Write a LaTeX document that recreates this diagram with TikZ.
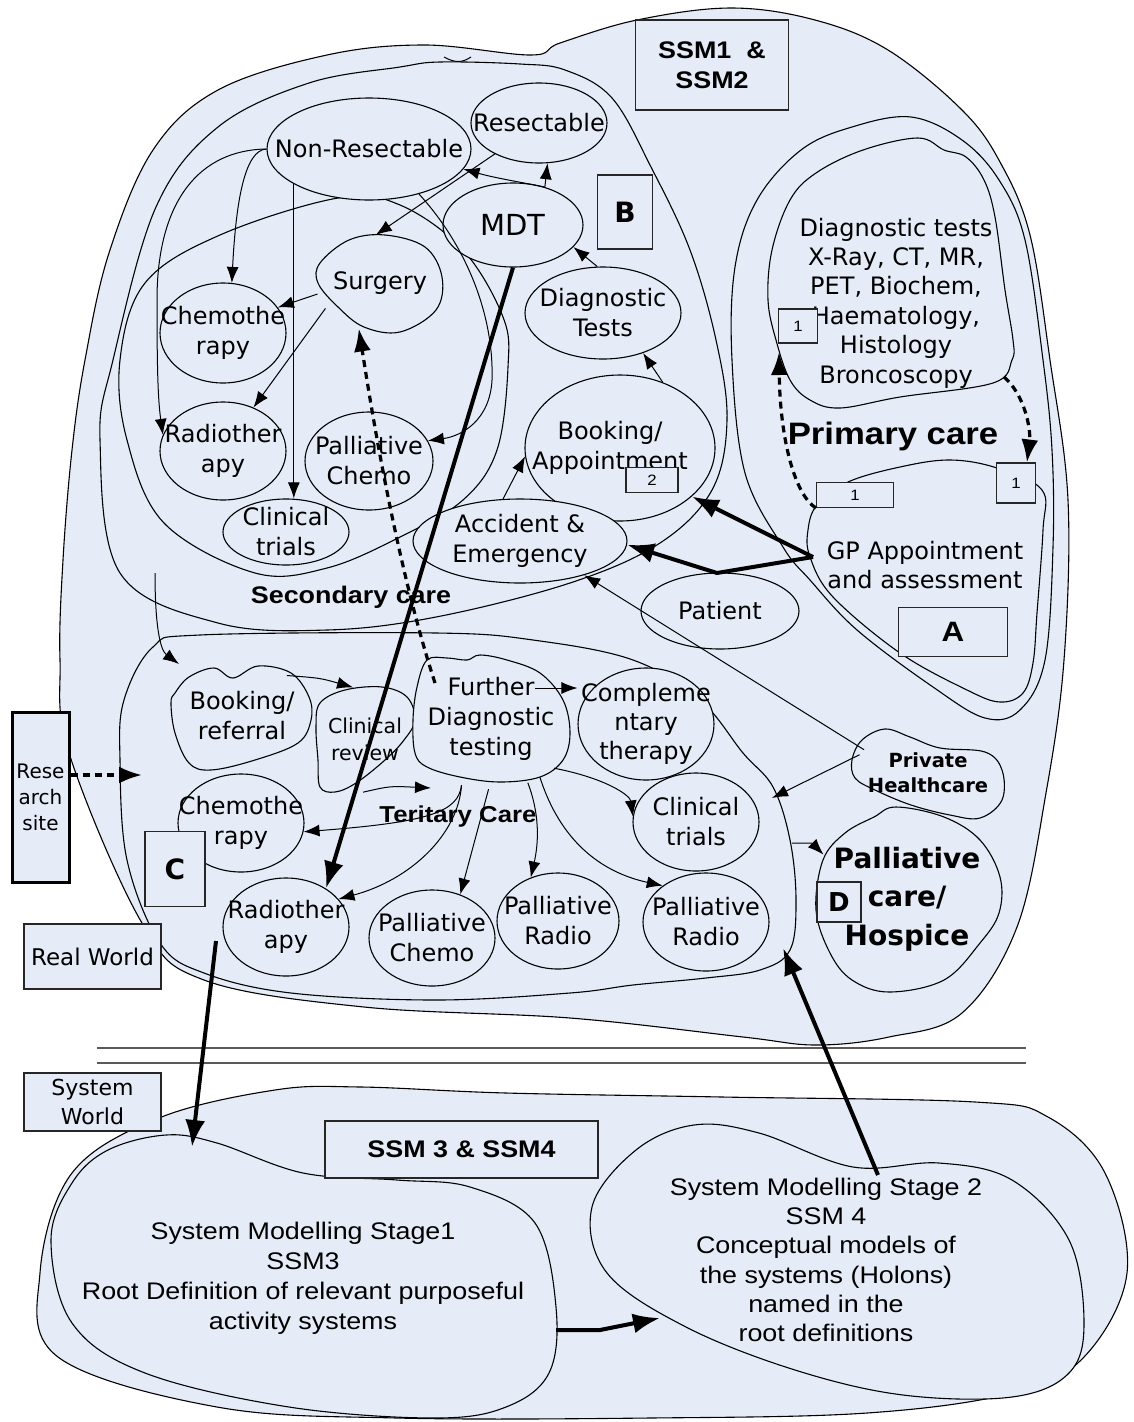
\documentclass[tikz,border=0pt]{standalone}
\usepackage{fontspec}
\setmainfont{DejaVu Sans}
\newfontfamily\arialf[FakeStretch=1.12]{Liberation Sans}
\usetikzlibrary{arrows.meta,shapes.geometric}
\definecolor{paleblue}{RGB}{229,236,247}
\definecolor{rulegray}{RGB}{90,90,90}
\tikzset{
  txt/.style={font=\fontsize{24}{30}\selectfont, align=center, inner sep=0pt},
  region/.style={draw=black, line width=1.1pt, fill=paleblue},
  % ellipse of a fixed size; its text is set as a centred label
  oval/.style={ellipse, draw=black, line width=1.1pt, fill=paleblue, inner sep=0pt},
  blobanchor/.style={ellipse, inner sep=0pt},
  tagbox/.style={draw=black!85, line width=1.1pt, fill=paleblue, inner sep=0pt, align=center},
  thinarrow/.style={line width=1pt, -{Latex[length=16pt,width=12pt]}},
  heavyarrow/.style={line width=4pt, -{Latex[length=27pt,width=20pt]}},
  dotarrow/.style={line width=3.2pt, dash pattern=on 7pt off 5pt, -{Latex[length=23pt,width=17pt]}},
  heading/.style={font=\arialf\bfseries\fontsize{24}{30}\selectfont, inner sep=0pt, align=center},
  sysfont/.style={font=\arialf\fontsize{24}{30}\selectfont, inner sep=0pt, align=center},
  smallnum/.style={tagbox, font=\arialf\fontsize{15}{16}\selectfont},
}
\begin{document}
\begin{tikzpicture}[x=1pt,y=-1pt]
\useasboundingbox (0,0) rectangle (1133,1422);
\fill[white] (0,0) rectangle (1133,1422);

% ---------- real world region ----------
\draw[region] plot[smooth cycle, tension=0.6] coordinates {(69,753) (60,660) (63,560) (72,450) (85,360) (109,253) (153,150) (218,90) (327,55) (425,45) (531,55) (560,43) (637,20) (731,8) (815,20) (888,50) (962,110) (1000,162) (1030,235) (1050,360) (1068,500) (1064,660) (1046,793) (1017,927) (962,1013) (889,1037) (816,1045) (743,1037) (570,1018) (364,1007) (204,980) (142,923)};
\draw[line width=1pt] (444,57) .. controls (455,63) and (462,63) .. (471,57);

% secondary care
\draw[region] plot[smooth cycle, tension=0.6] coordinates {(440,62) (520,64) (565,70) (612,98) (651,167) (690,250) (716,340) (727,420) (712,490) (660,543) (570,583) (436,617) (327,630) (218,623) (120,573) (100,440) (113,360) (156,207) (218,127) (309,83) (400,67)};
% treatment group
\draw[region] plot[smooth cycle, tension=0.6] coordinates {(120,360) (145,283) (220,235) (338,198) (400,205) (463,250) (503,317) (508,367) (497,450) (463,500) (400,537) (327,568) (255,573) (164,523) (127,440)};

% primary care
\draw[region] plot[smooth cycle, tension=0.6] coordinates {(732,360) (735,267) (757,200) (801,150) (852,127) (911,117) (962,140) (999,180) (1025,240) (1043,360) (1052,450) (1053,547) (1045,660) (1020,710) (985,718) (933,687) (857,630) (810,580) (783,547) (745,473)};
\draw[region] plot[smooth cycle, tension=0.6] coordinates {(768,300) (772,250) (790,200) (816,173) (863,150) (918,138) (944,150) (966,157) (984,180) (995,217) (1005,290) (1013,340) (1012,360) (993,383) (900,397) (840,408) (810,400) (790,380) (776,340)};
\draw[region] plot[smooth cycle, tension=0.6] coordinates {(848,482) (900,467) (950,460) (997,468) (1042,490) (1043,530) (1037,613) (1033,663) (1023,693) (1000,702) (967,690) (900,653) (833,597) (810,557) (808,530) (817,505)};

% tertiary care
\draw[region] plot[smooth cycle, tension=0.6] coordinates {(124,700) (153,647) (200,635) (436,633) (533,640) (633,660) (700,700) (743,753) (773,787) (790,840) (796,900) (790,950) (760,970) (706,978) (633,985) (570,993) (436,1000) (291,993) (204,973) (160,943) (127,860) (120,760)};

% private healthcare and hospice
\draw[region] plot[smooth cycle, tension=0.6] coordinates {(852,760) (862,740) (885,729) (910,737) (940,748) (985,752) (1002,770) (1002,800) (980,818) (950,815) (911,805) (875,790) (855,778)};
\draw[region] plot[smooth cycle, tension=0.6] coordinates {(896,807) (944,817) (980,840) (1000,877) (999,913) (980,943) (944,980) (889,992) (852,980) (830,953) (816,910) (823,860) (845,833) (874,817)};

% ---------- system world ----------
\draw[region] plot[smooth cycle, tension=0.6] coordinates {(159,1118) (275,1090) (361,1087) (506,1093) (722,1097) (975,1102) (1048,1117) (1105,1173) (1127,1273) (1084,1357) (1012,1393) (867,1413) (650,1418) (397,1418) (217,1407) (58,1357) (40,1273) (72,1173)};
\draw[region] plot[smooth cycle, tension=0.6] coordinates {(108,1150) (166,1135) (217,1143) (303,1173) (397,1180) (470,1187) (535,1223) (556,1307) (549,1373) (506,1407) (434,1418) (289,1407) (145,1373) (72,1323) (51,1240) (72,1183)};
\draw[region] plot[smooth cycle, tension=0.6] coordinates {(592,1207) (636,1150) (694,1125) (759,1133) (853,1167) (939,1163) (1012,1180) (1069,1240) (1084,1323) (1069,1373) (1012,1397) (903,1395) (795,1370) (686,1327) (607,1273)};

% ---------- secondary care nodes ----------
\node[oval, minimum width=204pt, minimum height=102pt, label={[txt]center:{Non-Resectable}}] (nonres) at (369,149) {};
\node[oval, minimum width=136pt, minimum height=80pt, label={[txt]center:{Resectable}}] (resect) at (539,123) {};
\node[oval, minimum width=140pt, minimum height=84pt, label={[txt, font=\fontsize{29}{32}\selectfont]center:{MDT}}] (mdt) at (513,225) {};
\draw[region] plot[smooth cycle, tension=0.6] coordinates {(320,263) (349,240) (385,235) (425,247) (442,277) (436,310) (400,332) (364,327) (338,307) (318,283)};
\node[blobanchor, minimum width=128pt, minimum height=96pt, label={[txt]center:{Surgery}}] (surgery) at (380,283) {};
\node[oval, minimum width=126pt, minimum height=100pt, label={[txt]center:{Chemothe\\rapy}}] (chemo1) at (223,333) {};
\node[oval, minimum width=126pt, minimum height=98pt, label={[txt]center:{Radiother\\apy}}] (radio1) at (223,451) {};
\node[oval, minimum width=128pt, minimum height=98pt, label={[txt]center:{Palliative\\Chemo}}] (palchemo1) at (369,461) {};
\node[oval, minimum width=126pt, minimum height=66pt, label={[txt]center:{Clinical\\trials}}] (ctrials1) at (286,532) {};
\node[oval, minimum width=156pt, minimum height=92pt, label={[txt]center:{Diagnostic\\Tests}}] (diagtests) at (603,313) {};
\node[oval, minimum width=190pt, minimum height=146pt, label={[txt, xshift=-10pt]center:{Booking/\\Appointment}}] (booking) at (620,448) {};
\node[oval, minimum width=214pt, minimum height=84pt, label={[txt]center:{Accident \&\\Emergency}}] (ae) at (520,541) {};
\node[oval, minimum width=158pt, minimum height=76pt, label={[txt]center:{Patient}}] (patient) at (720,611) {};
\node[heading] (seclabel) at (351,597) {Secondary care};
\node[tagbox, minimum width=55pt, minimum height=74pt, font=\bfseries\fontsize{28}{30}\selectfont] (boxB) at (625,212) {B};
\node[smallnum, minimum width=52pt, minimum height=25pt] (box2) at (652,480) {2};

% ---------- primary care nodes ----------
\node[txt, font=\fontsize{24}{29.4}\selectfont] (dtp) at (896,303) {Diagnostic tests\\X-Ray, CT, MR,\\PET, Biochem,\\Haematology,\\Histology\\Broncoscopy};
\node[smallnum, minimum width=39pt, minimum height=34pt] (box1c) at (798,326) {1};
\node[heading, font=\arialf\bfseries\fontsize{31}{36}\selectfont] (primlabel) at (893,436) {Primary care};
\node[txt, font=\fontsize{24}{29}\selectfont] (gp) at (925,565) {GP Appointment\\and assessment};
\node[smallnum, minimum width=77pt, minimum height=25pt] (box1a) at (855,495) {1};
\node[smallnum, minimum width=39pt, minimum height=40pt] (box1b) at (1016,483) {1};
\node[tagbox, minimum width=109pt, minimum height=49pt, font=\arialf\bfseries\fontsize{28}{30}\selectfont] (boxA) at (953,632) {A};

% ---------- tertiary care nodes ----------
\draw[region] plot[smooth cycle, tension=0.6] coordinates {(175,693) (189,677) (214,668) (233,678) (258,666) (291,673) (309,697) (311,720) (298,743) (255,760) (211,770) (189,763) (175,733) (171,703)};
\node[blobanchor, minimum width=142pt, minimum height=104pt, label={[txt]center:{Booking/\\referral}}] (booking2) at (242,716) {};
\draw[region] plot[smooth cycle, tension=0.6] coordinates {(320,703) (345,690) (382,687) (407,697) (415,720) (404,740) (385,760) (356,783) (335,792) (320,787) (318,760) (316,727)};
\node[blobanchor, minimum width=100pt, minimum height=106pt, label={[txt, font=\fontsize{20.5}{27}\selectfont]center:{Clinical\\review}}] (clinrev) at (365,739) {};
\draw[region] plot[smooth cycle, tension=0.6] coordinates {(427,660) (447,658) (467,660) (480,655) (507,660) (540,673) (563,700) (570,733) (563,760) (540,777) (500,782) (460,777) (427,767) (415,753) (413,720) (417,687)};
\node[blobanchor, minimum width=176pt, minimum height=140pt, label={[txt]center:{Further\\Diagnostic\\testing}}] (further) at (491,719) {};
\node[oval, minimum width=136pt, minimum height=112pt, label={[txt, font=\fontsize{24}{29}\selectfont]center:{Compleme\\ntary\\therapy}}] (comp) at (646,724) {};
\node[oval, minimum width=126pt, minimum height=98pt, label={[txt]center:{Clinical\\trials}}] (ctrials2) at (696,822) {};
\node[oval, minimum width=126pt, minimum height=98pt, label={[txt]center:{Chemothe\\rapy}}] (chemo2) at (241,823) {};
\node[oval, minimum width=126pt, minimum height=98pt, label={[txt]center:{Radiother\\apy}}] (radio2) at (286,927) {};
\node[oval, minimum width=126pt, minimum height=96pt, label={[txt]center:{Palliative\\Chemo}}] (palchemo2) at (432,938) {};
\node[oval, minimum width=122pt, minimum height=96pt, label={[txt]center:{Palliative\\Radio}}] (palradio1) at (558,921) {};
\node[oval, minimum width=126pt, minimum height=98pt, label={[txt]center:{Palliative\\Radio}}] (palradio2) at (706,922) {};
\node[heading, font=\arialf\bfseries\fontsize{23}{28}\selectfont] (terlabel) at (458,817) {Teritary Care};
\node[tagbox, minimum width=60pt, minimum height=75pt, font=\bfseries\fontsize{28}{30}\selectfont] (boxC) at (175,869) {C};
\node[blobanchor, minimum width=150pt, minimum height=88pt, label={[txt, font=\bfseries\fontsize{19.5}{25}\selectfont]center:{Private\\Healthcare}}] (private) at (928,773) {};
\node[blobanchor, minimum width=190pt, minimum height=185pt, label={[txt, font=\bfseries\fontsize{28}{38.5}\selectfont]center:{Palliative\\care/\\Hospice}}] (hospice) at (907,899) {};
\node[tagbox, minimum width=44pt, minimum height=40pt, font=\bfseries\fontsize{26}{28}\selectfont] (boxD) at (839,902) {D};

% ---------- boxes outside ----------
\node[tagbox, minimum width=153pt, minimum height=90pt, font=\arialf\bfseries\fontsize{24}{30}\selectfont] (ssm12) at (712,65) {SSM1\ \ \&\\SSM2};
\node[tagbox, line width=3pt, draw=black, minimum width=57pt, minimum height=170pt, font=\fontsize{20}{26}\selectfont] (research) at (40.5,797) {Rese\\arch\\site};
\node[tagbox, minimum width=137pt, minimum height=65pt, font=\fontsize{23}{28}\selectfont] (realworld) at (92.5,956.5) {Real World};
\node[tagbox, minimum width=137pt, minimum height=58pt, font=\fontsize{22}{29}\selectfont] (sysworld) at (92.5,1102) {System\\World};
\node[tagbox, minimum width=273pt, minimum height=57pt, font=\arialf\bfseries\fontsize{24}{30}\selectfont] (ssm34) at (461.5,1149.5) {SSM 3 \& SSM4};
\node[sysfont] (ssm3) at (303,1278) {System Modelling Stage1\\SSM3\\Root Definition of relevant purposeful\\activity systems};
\node[sysfont, font=\arialf\fontsize{24}{29.3}\selectfont] (ssm4) at (826,1260) {System Modelling Stage 2\\SSM 4\\Conceptual models of\\the systems (Holons)\\named in the\\root definitions};

% world separator
\draw[rulegray, line width=1.5pt] (97,1048) -- (1026,1048);
\draw[rulegray, line width=1.5pt] (97,1063) -- (1026,1063);

% ---------- connector end points on region borders ----------
\coordinate (gpL) at (813,557);
\coordinate (gpBend) at (717,573);
\coordinate (secL) at (155,573);
\coordinate (terTL) at (179,664);
\coordinate (tcR) at (431,788);
\coordinate (fdOut) at (535,688);
\coordinate (fdIn) at (435,683);
\coordinate (terR) at (772,798);
\coordinate (terH) at (792,843);
\coordinate (resTip) at (142,775);
\coordinate (dgL) at (779,352);
\coordinate (dgR) at (1004,377);
\coordinate (rwOut) at (216,941);
\coordinate (ssm3In) at (192,1147);
\coordinate (ssm4Out) at (878,1175);
\coordinate (terB) at (783,948);
\coordinate (ssm3Out) at (556,1330);
\coordinate (ssmBend) at (600,1330);
\coordinate (ssm4In) at (660,1318);

% ---------- secondary care flows ----------
\draw[thinarrow] (nonres.west) .. controls (245,150) and (236,200) .. (chemo1.80);
\draw[thinarrow] (nonres.west) .. controls (200,150) and (157,200) .. (157,300) .. controls (157,370) and (158,400) .. (radio1.165);
\draw[thinarrow] (nonres.205) -- (nonres.205 |- ctrials1.north);
\draw[thinarrow] (resect.215) -- (surgery.95);
\draw[thinarrow] (mdt.50) .. controls (520,182) and (495,178) .. (nonres.348);
\draw[thinarrow] (mdt.50) -- (resect.282);
\draw[thinarrow] (surgery.190) -- (chemo1.25);
\draw[thinarrow] (surgery.205) -- (radio1.55);
\draw[thinarrow] (nonres.318) .. controls (470,250) and (494,320) .. (492,380) .. controls (490,420) and (462,436) .. (palchemo1.19);
\draw[thinarrow] (diagtests.97) -- (mdt.340);
\draw[thinarrow] (booking.57) -- (diagtests.315);
\draw[thinarrow] (ae.112) -- (booking.185);
\draw[thinarrow] (private.160) -- (ae.332);
\draw[thinarrow] (private.165) -- (terR);
\draw[heavyarrow] (gpL) -- (booking.326);
\draw[heavyarrow] (gpL) -- (gpBend) -- (ae.358);

% ---------- primary care flows ----------
\draw[dotarrow] (box1a.south west) .. controls (795,495) and (780,440) .. (dgL);
\draw[dotarrow] (dgR) .. controls (1025,395) and (1031,430) .. (box1b.62);

% ---------- tertiary care flows ----------
\draw[thinarrow] (secL) .. controls (155,625) and (160,650) .. (terTL);
\draw[thinarrow] (booking2.42) .. controls (320,678) .. (clinrev.103);
\draw[thinarrow] (clinrev.268) .. controls (390,786) .. (tcR);
\draw[thinarrow] (fdOut) -- (fdOut -| comp.west);
\draw[thinarrow] (further.322) .. controls (605,778) and (630,795) .. (ctrials2.175);
\draw[thinarrow] (further.310) .. controls (560,840) and (600,872) .. (palradio2.140);
\draw[thinarrow] (further.300) .. controls (542,820) and (537,850) .. (palradio1.122);
\draw[thinarrow] (further.268) -- (palchemo2.57);
\draw[thinarrow] (further.246) .. controls (458,835) and (410,880) .. (radio2.28);
\draw[thinarrow] (further.246) .. controls (458,812) and (430,822) .. (chemo2.352);
\draw[thinarrow] (terH) .. controls (812,843) .. (hospice.152);
\draw[dotarrow] (research.east |- resTip) -- (resTip);
\draw[dotarrow] (fdIn) .. controls (395,560) and (370,400) .. (surgery.245);
\draw[heavyarrow] (mdt.south) -- (radio2.44);

% ---------- between the worlds ----------
\draw[heavyarrow] (rwOut) -- (ssm3In);
\draw[heavyarrow] (ssm4Out) -- (terB);
\draw[heavyarrow] (ssm3Out) -- (ssmBend) -- (ssm4In);
\end{tikzpicture}
\end{document}
